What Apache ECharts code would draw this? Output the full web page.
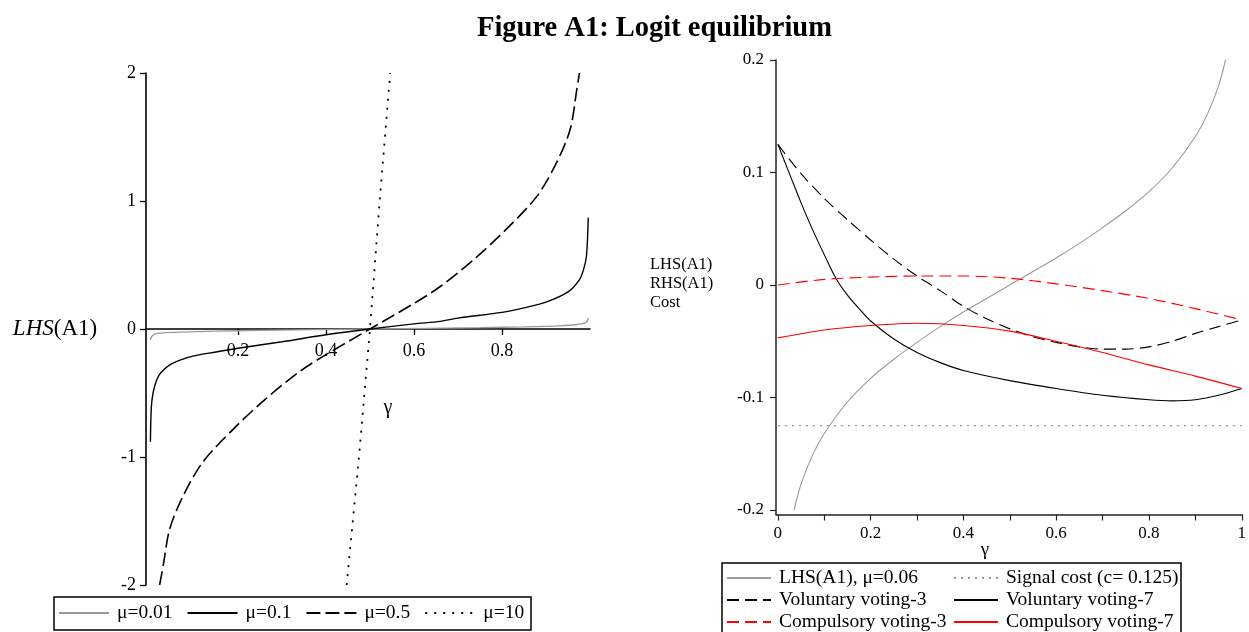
<!DOCTYPE html>
<html><head><meta charset="utf-8">
<script src="https://cdn.jsdelivr.net/npm/echarts@6/dist/echarts.min.js"></script>
<style>html,body{margin:0;padding:0;background:#fff}#c{width:1249px;height:632px}</style>
</head><body><div id="c"></div>
<script>
// ---------- Left panel: LHS(A1) for several mu ----------
const mu001X = [0.001,0.004,0.01,0.03,0.07,0.15,0.25,0.5,0.75,0.85,0.93,0.97,0.99,0.997];
const mu001Y = [-0.085,-0.06,-0.04,-0.03,-0.024,-0.017,-0.011,0,0.011,0.017,0.025,0.035,0.05,0.085];
const mu01X = [0.001,0.003,0.007,0.015,0.025,0.05,0.1,0.15,0.2,0.3,0.4,0.5,0.6,0.66,0.7,0.8,0.85,0.9,0.95,0.975,0.985,0.992,0.996];
const mu01Y = [-0.88,-0.62,-0.5,-0.4,-0.34,-0.27,-0.21,-0.18,-0.15,-0.1,-0.045,0,0.04,0.06,0.085,0.13,0.165,0.21,0.29,0.38,0.46,0.57,0.87];
const mu05X = [0.022,0.03,0.045,0.076,0.12,0.19,0.265,0.341,0.4,0.5,0.6,0.659,0.735,0.81,0.88,0.924,0.955,0.97,0.976];
const mu05Y = [-2.0,-1.85,-1.56,-1.3,-1.04,-0.78,-0.54,-0.33,-0.2,0,0.2,0.33,0.54,0.78,1.04,1.3,1.56,1.87,2.0];
const mu10X = [0.447,0.475,0.5,0.522,0.546];
const mu10Y = [-2,-1,0,1,2];
const leftXTicks = [0.2,0.4,0.6,0.8];
const leftYTicks = [-2,-1,0,1,2];
const leftNames = ['μ=0.01','μ=0.1','μ=0.5','μ=10'];

// ---------- Right panel ----------
const lhs06X = [0.035,0.05,0.075,0.1,0.15,0.2,0.25,0.3,0.35,0.4,0.45,0.5,0.55,0.6,0.65,0.7,0.75,0.8,0.85,0.9,0.925,0.95,0.965];
const lhs06Y = [-0.2,-0.177,-0.151,-0.132,-0.104,-0.083,-0.066,-0.051,-0.037,-0.024,-0.012,0,0.012,0.024,0.037,0.051,0.066,0.083,0.104,0.132,0.151,0.177,0.2];
const costX = [0,1];
const costY = [-0.125,-0.125];
const vol3X = [0,0.05,0.1,0.15,0.2,0.25,0.3,0.35,0.4,0.45,0.5,0.55,0.6,0.65,0.7,0.75,0.8,0.85,0.9,0.95,1];
const vol3Y = [0.125,0.099,0.077,0.058,0.040,0.023,0.008,-0.005,-0.019,-0.030,-0.039,-0.046,-0.051,-0.055,-0.057,-0.057,-0.055,-0.050,-0.043,-0.037,-0.031];
const vol7X = [0,0.025,0.05,0.075,0.1,0.125,0.15,0.175,0.2,0.25,0.3,0.35,0.4,0.5,0.6,0.7,0.8,0.85,0.9,0.95,1];
const vol7Y = [0.125,0.099,0.073,0.049,0.027,0.006,-0.009,-0.021,-0.032,-0.048,-0.060,-0.069,-0.076,-0.085,-0.092,-0.098,-0.102,-0.103,-0.102,-0.098,-0.092];
const comp3X = [0,0.1,0.2,0.3,0.4,0.5,0.6,0.7,0.8,0.9,1];
const comp3Y = [0,0.005,0.007,0.008,0.008,0.006,0.001,-0.005,-0.012,-0.021,-0.031];
const comp7X = [0,0.1,0.2,0.3,0.4,0.5,0.6,0.7,0.8,0.9,1];
const comp7Y = [-0.047,-0.040,-0.036,-0.034,-0.036,-0.041,-0.050,-0.060,-0.071,-0.081,-0.092];
const rightXTicks = [0,0.1,0.2,0.3,0.4,0.5,0.6,0.7,0.8,0.9,1];
const rightXLabels = [0,0.2,0.4,0.6,0.8,1];
const rightYTicks = [-0.2,-0.1,0,0.1,0.2];
const rightNames = ['LHS(A1), μ=0.06','Signal cost (c= 0.125)','Voluntary voting-3','Voluntary voting-7','Compulsory voting-3','Compulsory voting-7'];

const F = 'Liberation Serif';
function pairs(xs, ys){ return xs.map((x,i)=>[x, ys[i]]); }
function ln(name, xi, xs, ys, color, width, type, smooth){
  return {type:'line', name:name, xAxisIndex:xi, yAxisIndex:xi, data:pairs(xs,ys), symbol:'none',
    smooth: smooth, color:color, lineStyle:{color:color, width:width, type:type}, emphasis:{disabled:true}, z:3};
}
const axText = (size)=>({fontFamily:F, fontSize:size, color:'#000'});
const legText = (size)=>({fontFamily:F, fontSize:size, color:'#000', padding:[0,0,0,3]});
const hideSym = {color:'rgba(0,0,0,0)', borderColor:'rgba(0,0,0,0)', borderWidth:0, opacity:0};

// right legend: 2 columns x 3 rows, one small legend per entry
const rightLegends = rightNames.map((nm, i) => ({
  data:[nm], left: (i % 2 === 0) ? 726 : 953, top: 568 + Math.floor(i / 2) * 22, padding:0,
  itemWidth:44, itemHeight:14, selectedMode:false, itemStyle:hideSym, textStyle:legText(19.5)
}));

const chart = echarts.init(document.getElementById('c'), null, {renderer:'canvas'});
const option = {
  animation:false,
  backgroundColor:'#fff',
  title:{text:'{b|Figure A1}{n|: Logit equilibrium}', left:472, top:9,
    textStyle:{rich:{b:{fontFamily:F, fontWeight:'bold', fontSize:28.5, color:'#000'}, n:{fontFamily:F, fontSize:28.5, color:'#000'}}}},
  grid:[{left:146, top:73, width:444, height:512}, {left:776, top:60, width:469, height:454.5}],
  xAxis:[
    {gridIndex:0, type:'value', min:-0.009, max:1, offset:-256,
     axisLine:{onZero:false, lineStyle:{color:'#000', width:1.6}},
     axisTick:{customValues:leftXTicks, length:6, lineStyle:{color:'#000', width:1.3}},
     axisLabel:{customValues:leftXTicks, margin:13, ...axText(18)}, splitLine:{show:false}},
    {gridIndex:1, type:'value', min:-0.004, max:1,
     axisLine:{onZero:false, lineStyle:{color:'#222', width:1.5}},
     axisTick:{customValues:rightXTicks, length:6, lineStyle:{color:'#222', width:1.2}},
     axisLabel:{customValues:rightXLabels, margin:11, ...axText(17)}, splitLine:{show:false}}
  ],
  yAxis:[
    {gridIndex:0, type:'value', min:-2, max:2,
     axisLine:{show:true, onZero:false, lineStyle:{color:'#000', width:1.6}},
     axisTick:{show:true, customValues:leftYTicks, length:6, lineStyle:{color:'#000', width:1.3}},
     axisLabel:{customValues:leftYTicks, margin:10, ...axText(18)}, splitLine:{show:false}},
    {gridIndex:1, type:'value', min:-0.204, max:0.2,
     axisLine:{show:true, onZero:false, lineStyle:{color:'#222', width:1.5}},
     axisTick:{show:true, customValues:rightYTicks, length:6, lineStyle:{color:'#222', width:1.2}},
     axisLabel:{customValues:rightYTicks, margin:12, ...axText(17)}, splitLine:{show:false}}
  ],
  legend:[
    {data:leftNames, left:58, top:603, padding:0, itemWidth:50, itemHeight:14, itemGap:14, selectedMode:false,
     itemStyle:hideSym, textStyle:legText(19.5)}
  ].concat(rightLegends),
  graphic:[
    {type:'rect', shape:{x:54, y:597, width:477, height:33}, style:{fill:'none', stroke:'#000', lineWidth:1.5}},
    {type:'rect', shape:{x:722, y:563, width:459, height:80}, style:{fill:'none', stroke:'#000', lineWidth:1.5}},
    {type:'text', x:55, y:329, style:{text:'{i|LHS}(A1)', rich:{i:{fontStyle:'italic', fontFamily:F, fontSize:23, fill:'#000'}}, fontFamily:F, fontSize:23, fill:'#000', align:'center', verticalAlign:'middle'}},
    {type:'text', x:388, y:408, style:{text:'γ', fontFamily:F, fontSize:20, fill:'#000', align:'center', verticalAlign:'middle'}},
    {type:'text', x:985, y:550, style:{text:'γ', fontFamily:F, fontSize:19, fill:'#000', align:'center', verticalAlign:'middle'}},
    {type:'text', x:650, y:284, style:{text:'LHS(A1)\nRHS(A1)\nCost', fontFamily:F, fontSize:16.5, lineHeight:19, fill:'#000', align:'left', verticalAlign:'middle'}}
  ],
  series:[
    ln(leftNames[0], 0, mu001X, mu001Y, '#999', 1.3, 'solid', 0.3),
    ln(leftNames[1], 0, mu01X, mu01Y, '#000', 1.4, 'solid', 0.3),
    ln(leftNames[2], 0, mu05X, mu05Y, '#000', 1.6, [14,5], 0.3),
    ln(leftNames[3], 0, mu10X, mu10Y, '#000', 1.8, [2,7], 0),
    ln(rightNames[0], 1, lhs06X, lhs06Y, '#999', 1.1, 'solid', 0.3),
    ln(rightNames[1], 1, costX, costY, '#999', 1.1, [2,5], 0),
    ln(rightNames[2], 1, vol3X, vol3Y, '#000', 1.1, [12,6], 0.3),
    ln(rightNames[3], 1, vol7X, vol7Y, '#000', 1.1, 'solid', 0.3),
    ln(rightNames[4], 1, comp3X, comp3Y, '#ff0000', 1.1, [12,6], 0.3),
    ln(rightNames[5], 1, comp7X, comp7Y, '#ff0000', 1.1, 'solid', 0.3)
  ]
};
chart.setOption(option);
</script>
</body></html>
